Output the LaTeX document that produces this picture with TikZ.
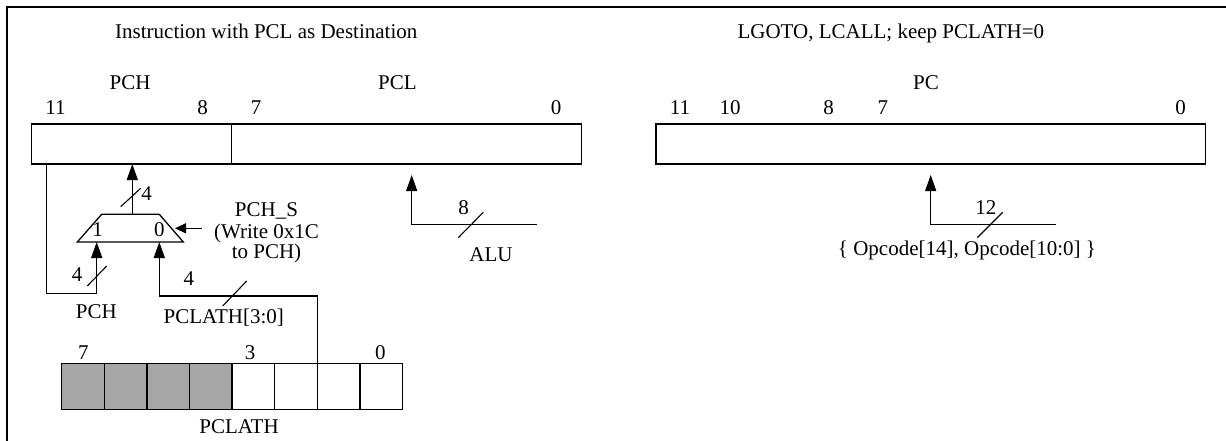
\documentclass[tikz,border=0pt]{standalone}
\usepackage{fontspec}
\setmainfont{Liberation Serif}
\usetikzlibrary{arrows.meta}
\definecolor{cellgray}{RGB}{166,166,166}
\begin{document}
\begin{tikzpicture}[x=1pt,y=-1pt,
  wire/.style={line width=1.3pt},
  arr/.style={wire,-{Triangle[length=16pt,width=11pt]}},
  sarr/.style={wire,-{Triangle[length=11pt,width=10pt]}},
  reg/.style={draw,line width=1.3pt,inner sep=0pt,outer sep=0pt,minimum height=40pt,anchor=north west},
  cell/.style={draw,line width=1.3pt,inner sep=0pt,outer sep=0pt,minimum width=42.6pt,minimum height=46pt,anchor=north west},
  lbl/.style={inner sep=0pt,anchor=base,font=\fontsize{21}{25}\selectfont},
  slash/.style={line width=1.1pt}]
\useasboundingbox (0,0) rectangle (1226,441);
\fill[white] (0,0) rectangle (1226,441);
% frame
\draw[line width=2.3pt] (7,441) -- (7,7) -- (1226,7);

% ---------- left panel ----------
\node[lbl] (t1) at (266.3,39) {Instruction with PCL as Destination};
\node[lbl] (lpch) at (130.1,90) {PCH};
\node[lbl] (lpcl) at (397.4,90) {PCL};
\node[lbl] (b11) at (55.4,115) {11};
\node[lbl] (b8) at (202.5,115) {8};
\node[lbl] (b7) at (256.2,115) {7};
\node[lbl] (b0) at (556,115) {0};
\node[reg,minimum width=199.7pt] (pch) at (31.6,124) {};
\node[reg,minimum width=350pt] (pcl) at (231.3,124) {};

% mux
\coordinate (mbl) at (77.3,242);
\coordinate (mtl) at (101.7,214.3);
\coordinate (mtr) at (159.3,214.3);
\coordinate (mbr) at (183.3,242);
\draw[wire] (mbl) -- (mtl) -- (mtr) -- (mbr) -- cycle;
\coordinate (mux1) at (96.7,242);
\coordinate (mux0) at (159.3,242);
\coordinate (muxo) at (132.3,214.3);
\coordinate (muxs) at (175,228.3);
\node[lbl] (in1) at (97.5,236.7) {1};
\node[lbl] (in0) at (159.3,236.7) {0};

% mux output
\draw[arr] (muxo) -- (muxo |- pch.south);
\draw[slash] (120.7,206.7) -- (140.7,188.3);
\node[lbl] (w4a) at (146.7,200.7) {4};

% select
\coordinate (sel) at (201.7,228.3);
\draw[sarr] (sel) -- (muxs);
\node[lbl] (s1) at (266.5,216) {PCH\_S};
\node[lbl] (s2) at (266.5,238) {(Write 0x1C};
\node[lbl] (s3) at (266.5,258.5) {to PCH)};

% feedback PCH
\coordinate (fb) at (46.7,293.3);
\draw[arr] (pch.south -| fb) -- (fb) -| (mux1);
\draw[slash] (87.3,286) -- (106.7,266);
\node[lbl] (w4b) at (77.2,281.7) {4};
\node[lbl] (lpch2) at (96.3,318.3) {PCH};

% PCLATH register
\foreach \i in {1,...,4}{
  \pgfmathsetmacro\xx{61.7+(\i-1)*42.6}
  \node[cell,fill=cellgray] (c\i) at (\xx,363.3) {};
}
\foreach \i in {5,...,8}{
  \pgfmathsetmacro\xx{61.7+(\i-1)*42.6}
  \node[cell] (c\i) at (\xx,363.3) {};
}
\node[lbl] (p7) at (83.3,359.3) {7};
\node[lbl] (p3) at (250,359.3) {3};
\node[lbl] (p0) at (380.4,359.3) {0};
\node[lbl] (lpclath) at (239,433.3) {PCLATH};

% PCLATH[3:0] to mux input 0
\coordinate (j0) at (159.3,296);
\draw[arr] (c6.north east) |- (j0) -- (mux0);
\draw[slash] (222.7,306) -- (246.7,281);
\node[lbl] (w4c) at (188.8,285) {4};
\node[lbl] (lpl30) at (223.8,323) {PCLATH[3:0]};

% ALU
\coordinate (alu) at (536.7,224.3);
\coordinate (alutip) at (411.7,175);
\draw[arr] (alu) -| (alutip);
\draw[slash] (458.3,237.7) -- (483.3,212.3);
\node[lbl] (w8) at (463.5,214) {8};
\node[lbl] (lalu) at (491,261.7) {ALU};

% ---------- right panel ----------
\node[lbl] (t2) at (890.8,39) {LGOTO, LCALL; keep PCLATH=0};
\node[lbl] (lpc) at (926,90) {PC};
\node[lbl] (r11) at (680,115) {11};
\node[lbl] (r10) at (730,115) {10};
\node[lbl] (r8) at (828.7,115) {8};
\node[lbl] (r7) at (882.9,115) {7};
\node[lbl] (r0) at (1180.5,115) {0};
\node[reg,minimum width=549.6pt] (pc) at (656,124) {};

\coordinate (opc) at (1055.7,224.3);
\coordinate (pctip) at (930.7,175);
\draw[arr] (opc) -| (pctip);
\draw[slash] (977.3,237.7) -- (1002.7,212.3);
\node[lbl] (w12) at (985.8,214) {12};
\node[lbl] (lopc) at (967,255) {\{ Opcode[14], Opcode[10:0] \}};
\end{tikzpicture}
\end{document}
